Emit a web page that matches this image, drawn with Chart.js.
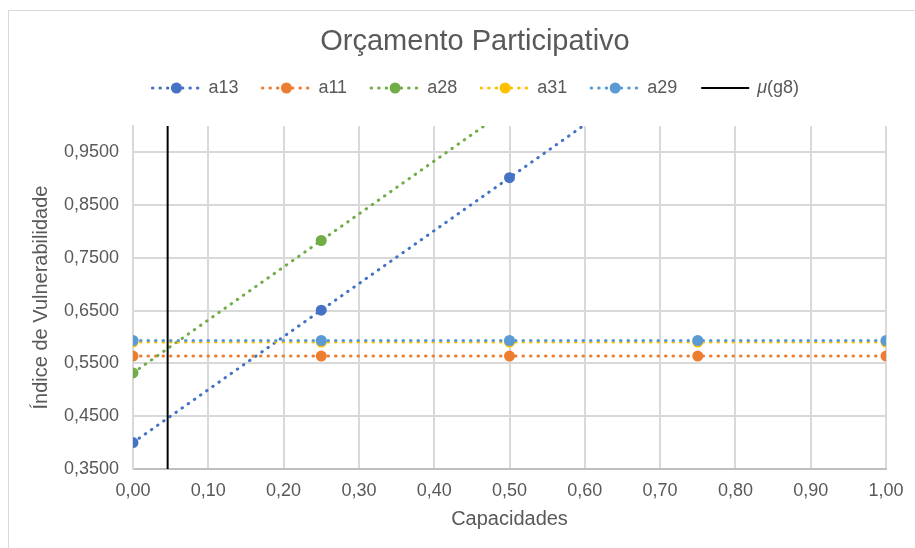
<!DOCTYPE html>
<html>
<head>
<meta charset="utf-8">
<script src="https://cdn.jsdelivr.net/npm/chart.js@4"></script>
<style>
  body { margin: 0; background: #fff; overflow: hidden; }
  .wrap { position: relative; width: 915px; height: 548px; }
  .frame { position: absolute; left: 8px; top: 10px; width: 960px; height: 600px; border: 1px solid #d9d9d9; }
  canvas { position: absolute; left: 0; top: 0; }
</style>
</head>
<body>
<div class="wrap">
  <div class="frame"></div>
  <canvas id="myChart" width="915" height="548"></canvas>
</div>
<script>
// data
const capacidades = [0, 0.25, 0.5, 0.75, 1];
const a13 = [0.400, 0.651, 0.902, 1.153, 1.404];
const a11 = [0.564, 0.564, 0.564, 0.564, 0.564];
const a28 = [0.532, 0.783, 1.034, 1.285, 1.536];
const a31 = [0.5905, 0.5905, 0.5905, 0.5905, 0.5905];
const a29 = [0.5935, 0.5935, 0.5935, 0.5935, 0.5935];
const mu_x = [0.046, 0.046];
const mu_y = [0.35, 1.0];
const yTicks = [0.35, 0.45, 0.55, 0.65, 0.75, 0.85, 0.95];

const seriesNames = ["a13", "a11", "a28", "a31", "a29"];
const seriesValues = [a13, a11, a28, a31, a29];
const seriesColors = ["#4472C4", "#ED7D31", "#70AD47", "#FFC000", "#5B9BD5"];

const FONT = "'Liberation Sans', Arial, sans-serif";
const GREY = "#595959";

function toPoints(xs, ys) {
  return xs.map((x, i) => ({ x: x, y: ys[i] }));
}

var datasets = seriesNames.map((name, i) => ({
  label: name,
  data: toPoints(capacidades, seriesValues[i]),
  showLine: true,
  borderColor: seriesColors[i],
  backgroundColor: seriesColors[i],
  borderWidth: 3,
  borderDash: [0.5, 7],
  borderCapStyle: "round",
  pointRadius: 5.5,
  pointBorderWidth: 0,
  pointBackgroundColor: seriesColors[i],
  order: 10 - i,
}));
datasets.push({
  label: "μ(g8)",
  data: toPoints(mu_x, mu_y),
  showLine: true,
  borderColor: "#000",
  borderWidth: 2,
  pointRadius: 0,
  order: 0,
});

// title + legend drawn by hand (Excel style legend with line + marker)
const headerPlugin = {
  id: "header",
  afterDraw(chart) {
    const ctx = chart.ctx;
    const cx = 475;
    ctx.save();
    ctx.fillStyle = GREY;
    ctx.font = "29px " + FONT;
    ctx.textAlign = "center";
    ctx.textBaseline = "middle";
    ctx.fillText("Orçamento Participativo", cx, 42);

    ctx.font = "18px " + FONT;
    const symW = 52, gapT = 6, gapI = 22, ly = 88;
    var items = seriesNames.map((n, i) => ({ text: n, color: seriesColors[i], dotted: true }));
    items.push({ text: "μ(g8)", color: "#000", dotted: false });
    var widths = items.map((it) => symW + gapT + ctx.measureText(it.text).width);
    var total = widths.reduce((a, b) => a + b, 0) + gapI * (items.length - 1);
    var x = cx - total / 2;
    items.forEach((it, i) => {
      ctx.strokeStyle = it.color;
      ctx.beginPath();
      if (it.dotted) {
        ctx.lineWidth = 3;
        ctx.lineCap = "round";
        ctx.setLineDash([0.5, 7]);
      } else {
        ctx.lineWidth = 2;
        ctx.lineCap = "butt";
        ctx.setLineDash([]);
      }
      ctx.moveTo(x + 2, ly);
      ctx.lineTo(x + symW - 2, ly);
      ctx.stroke();
      ctx.setLineDash([]);
      if (it.dotted) {
        ctx.fillStyle = it.color;
        ctx.beginPath();
        ctx.arc(x + symW / 2, ly, 5.5, 0, Math.PI * 2);
        ctx.fill();
      }
      ctx.fillStyle = GREY;
      ctx.textAlign = "left";
      if (it.dotted) {
        ctx.fillText(it.text, x + symW + gapT, ly);
      } else {
        ctx.font = "italic 18px " + FONT;
        ctx.fillText("μ", x + symW + gapT, ly);
        var mw = ctx.measureText("μ").width;
        ctx.font = "18px " + FONT;
        ctx.fillText("(g8)", x + symW + gapT + mw, ly);
      }
      x += widths[i] + gapI;
    });
    ctx.restore();
  },
};

new Chart("myChart", {
  type: "scatter",
  data: { datasets: datasets },
  plugins: [headerPlugin],
  options: {
    responsive: false,
    animation: false,
    layout: { padding: { left: 20, right: 29, top: 126, bottom: 13 } },
    plugins: {
      legend: { display: false },
      tooltip: { enabled: false },
    },
    scales: {
      x: {
        type: "linear",
        min: 0,
        max: 1,
        afterFit: (scale) => { scale.height = 66; },
        ticks: {
          stepSize: 0.1,
          padding: 11,
          color: GREY,
          font: { family: FONT, size: 18 },
          maxRotation: 0,
          callback: (v) => v.toFixed(2).replace(".", ","),
        },
        grid: { color: "#d9d9d9", lineWidth: 2, drawTicks: false },
        border: { color: "#bfbfbf", width: 2 },
        title: {
          display: true,
          text: "Capacidades",
          color: GREY,
          font: { family: FONT, size: 20 },
          padding: { top: 4, bottom: 4 },
        },
      },
      y: {
        type: "linear",
        min: 0.35,
        max: 1.0,
        afterFit: (scale) => { scale.width = 113; },
        afterBuildTicks: (scale) => {
          scale.ticks = yTicks.map((v) => ({ value: v }));
        },
        ticks: {
          padding: 14,
          color: GREY,
          font: { family: FONT, size: 18 },
          callback: (v) => v.toFixed(4).replace(".", ","),
        },
        grid: { color: "#d9d9d9", lineWidth: 2, drawTicks: false },
        border: { color: "#d9d9d9", width: 2 },
        title: {
          display: true,
          text: "Índice de Vulnerabilidade",
          color: GREY,
          font: { family: FONT, size: 20 },
          padding: { top: 9, bottom: 0 },
        },
      },
    },
  },
});
</script>
</body>
</html>
